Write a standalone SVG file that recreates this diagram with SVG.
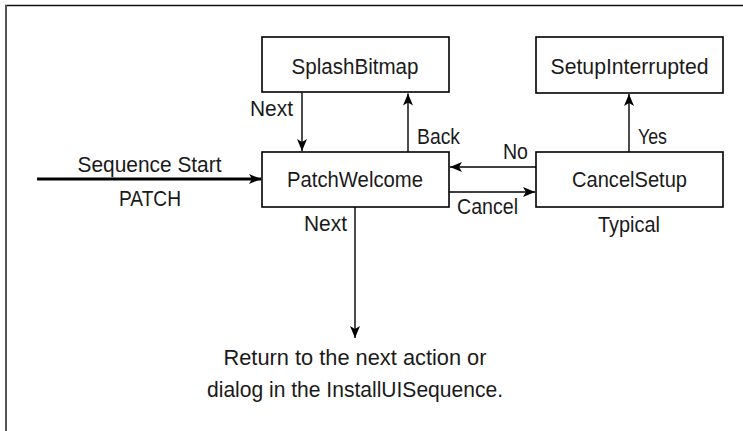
<svg xmlns="http://www.w3.org/2000/svg" width="743" height="431" viewBox="0 0 743 431">
  <style>
    .box { fill: #ffffff; stroke: #000000; stroke-width: 1.6; }
    .t { font-family: "Liberation Sans", Arial, sans-serif; font-size: 22.5px; fill: #1a1a1a; }
    .m { text-anchor: middle; }
    .c { fill: none; stroke: #000000; stroke-width: 1.4; marker-end: url(#ah); }
    .thick { stroke-width: 3; }
  </style>
  <defs>
    <marker id="ah" markerUnits="userSpaceOnUse" markerWidth="13" markerHeight="10" refX="12" refY="5" orient="auto">
      <path d="M0,0 L12,5 L0,10 L3,5 Z" fill="#000000"/>
    </marker>
  </defs>
  <rect x="0" y="0" width="743" height="431" fill="#ffffff"/>
  <line x1="5" y1="5.5" x2="743" y2="5.5" stroke="#111111" stroke-width="1.4"/>
  <line x1="6" y1="5" x2="6" y2="431" stroke="#555555" stroke-width="2"/>

  <g id="connectors">
    <path class="c" d="M302,92.5 V151"/>
    <path class="c" d="M408,152 V93.5"/>
    <path class="c" d="M536,167 H450"/>
    <path class="c" d="M449,192 H535"/>
    <path class="c" d="M629,152 V94"/>
    <path class="c thick" d="M37,179 H261"/>
    <path class="c" d="M355,207 V338"/>
    <text class="t" x="250" y="116" textLength="43" lengthAdjust="spacingAndGlyphs">Next</text>
    <text class="t" x="417" y="144" textLength="43" lengthAdjust="spacingAndGlyphs">Back</text>
    <text class="t" x="503" y="159" textLength="25" lengthAdjust="spacingAndGlyphs">No</text>
    <text class="t" x="457" y="214" textLength="61" lengthAdjust="spacingAndGlyphs">Cancel</text>
    <text class="t" x="638" y="144" textLength="29" lengthAdjust="spacingAndGlyphs">Yes</text>
    <text class="t" x="304" y="231" textLength="43" lengthAdjust="spacingAndGlyphs">Next</text>
    <text class="t m" x="149.5" y="172" textLength="144" lengthAdjust="spacingAndGlyphs">Sequence Start</text>
    <text class="t m" x="150" y="206" textLength="62" lengthAdjust="spacingAndGlyphs">PATCH</text>
  </g>

  <g id="SplashBitmap">
    <rect class="box" x="262" y="37" width="187" height="55"/>
    <text class="t m" x="355" y="74" textLength="127" lengthAdjust="spacingAndGlyphs">SplashBitmap</text>
  </g>
  <g id="SetupInterrupted">
    <rect class="box" x="536" y="37" width="187" height="56"/>
    <text class="t m" x="629.5" y="74" textLength="158" lengthAdjust="spacingAndGlyphs">SetupInterrupted</text>
  </g>
  <g id="PatchWelcome">
    <rect class="box" x="262" y="152" width="187" height="55"/>
    <text class="t m" x="355" y="187" textLength="136" lengthAdjust="spacingAndGlyphs">PatchWelcome</text>
  </g>
  <g id="CancelSetup">
    <rect class="box" x="536" y="152" width="187" height="55"/>
    <text class="t m" x="629.5" y="187" textLength="115" lengthAdjust="spacingAndGlyphs">CancelSetup</text>
    <text class="t m" x="629" y="232" textLength="62" lengthAdjust="spacingAndGlyphs">Typical</text>
  </g>
  <g id="Return">
    <text class="t m" x="355" y="365" textLength="263" lengthAdjust="spacingAndGlyphs">Return to the next action or</text>
    <text class="t m" x="355" y="397" textLength="296" lengthAdjust="spacingAndGlyphs">dialog in the InstallUISequence.</text>
  </g>
</svg>
